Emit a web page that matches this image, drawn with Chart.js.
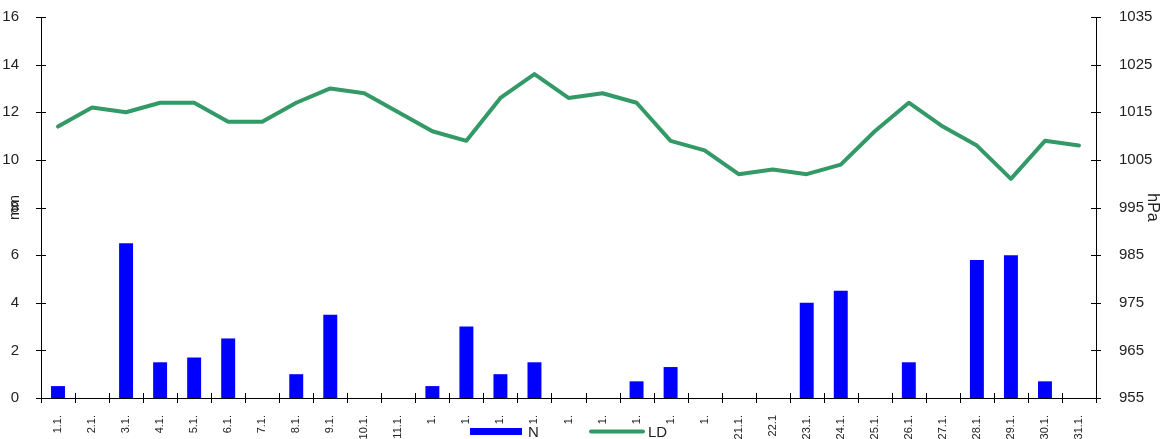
<!DOCTYPE html>
<html>
<head>
<meta charset="utf-8">
<script src="https://cdn.jsdelivr.net/npm/chart.js@4"></script>
<style>
  html, body { margin: 0; padding: 0; background: #fff; }
  #wrap { width: 1168px; height: 439px; position: relative; }
</style>
</head>
<body>
<div id="wrap"><canvas id="c"></canvas></div>
<script>
const categories = ['1.1.','2.1.','3.1.','4.1.','5.1.','6.1.','7.1.','8.1.','9.1.','10.1.','11.1.',
  '1.','1.','1.','1.','1.','1.','1.','1.','1.',
  '21.1.','22.1','23.1.','24.1.','25.1.','26.1.','27.1.','28.1.','29.1.','30.1.','31.1.'];
const precipN = [0.5,0,6.5,1.5,1.7,2.5,0,1.0,3.5,0,0,0.5,3.0,1.0,1.5,0,0,0.7,1.3,0,0,0,4.0,4.5,0,1.5,0,5.8,6.0,0.7,0];
const pressureLD = [1012,1016,1015,1017,1017,1013,1013,1017,1020,1019,1015,1011,1009,1018,1023,1018,1019,1017,1009,1007,1002,1003,1002,1004,1011,1017,1012,1008,1001,1009,1008];
const leftTicks = [0,2,4,6,8,10,12,14,16];
const rightTicks = [955,965,975,985,995,1005,1015,1025,1035];

const FONT = "'Liberation Sans', Arial, sans-serif";
const TXT = '#222';

const crossTicks = {
  id: 'crossTicks',
  afterDraw(chart) {
    const ctx = chart.ctx;
    const ca = chart.chartArea;
    ctx.save();
    ctx.strokeStyle = '#000';
    ctx.lineWidth = 1;
    const yL = chart.scales.y;
    const yR = chart.scales.y2;
    const x = chart.scales.x;
    ctx.beginPath();
    yL.ticks.forEach((t, i) => {
      const py = Math.round(yL.getPixelForTick(i)) + 0.5;
      ctx.moveTo(ca.left - 5, py); ctx.lineTo(ca.left + 5, py);
    });
    yR.ticks.forEach((t, i) => {
      const py = Math.round(yR.getPixelForTick(i)) + 0.5;
      ctx.moveTo(ca.right - 5, py); ctx.lineTo(ca.right + 5, py);
    });
    for (let i = 0; i <= categories.length; i++) {
      const px = Math.round(x.getPixelForValue(i - 0.5)) + 0.5;
      ctx.moveTo(px, ca.bottom - 5); ctx.lineTo(px, ca.bottom + 5);
    }
    ctx.stroke();
    ctx.restore();
  }
};

const customLegend = {
  id: 'customLegend',
  afterDraw(chart) {
    const ctx = chart.ctx;
    const ds = chart.data.datasets;
    ctx.save();
    ctx.font = "15px " + FONT;
    ctx.textBaseline = 'middle';
    const cy = 431.5;
    ctx.fillStyle = ds[0].backgroundColor;
    ctx.fillRect(470, cy - 3.5, 52, 7);
    ctx.fillStyle = TXT;
    ctx.fillText(ds[0].label, 528, cy + 1);
    ctx.strokeStyle = ds[1].borderColor;
    ctx.lineWidth = 4;
    ctx.lineCap = 'round';
    ctx.beginPath();
    ctx.moveTo(591, cy); ctx.lineTo(643, cy);
    ctx.stroke();
    ctx.fillStyle = TXT;
    ctx.fillText(ds[1].label, 648, cy + 1);
    ctx.restore();
  }
};

new Chart(document.getElementById('c'), {
  data: {
    labels: categories,
    datasets: [
      {
        type: 'bar', label: 'N', data: precipN, yAxisID: 'y',
        backgroundColor: '#0000FF', borderWidth: 0,
        barPercentage: 0.82, categoryPercentage: 0.5, order: 2
      },
      {
        type: 'line', label: 'LD', data: pressureLD, yAxisID: 'y2',
        borderColor: '#339966', backgroundColor: '#339966', borderWidth: 4,
        pointRadius: 0, tension: 0, order: 1, borderJoinStyle: 'round', borderCapStyle: 'round'
      }
    ]
  },
  options: {
    responsive: true,
    maintainAspectRatio: false,
    animation: false,
    devicePixelRatio: 1,
    layout: { padding: { top: 17, bottom: 0, left: 0, right: 0 } },
    plugins: { legend: { display: false }, tooltip: { enabled: false } },
    scales: {
      x: {
        type: 'category',
        offset: true,
        grid: { display: false },
        border: { display: true, color: '#000', width: 1 },
        ticks: {
          color: TXT, font: { family: FONT, size: 11 },
          minRotation: 90, maxRotation: 90, autoSkip: false, padding: 9
        },
        afterFit(s) { s.height = 41; s.paddingLeft = 0; s.paddingRight = 0; }
      },
      y: {
        position: 'left', min: 0, max: 16,
        afterBuildTicks(s) { s.ticks = leftTicks.map(v => ({ value: v })); },
        grid: { display: false },
        border: { display: true, color: '#000', width: 1 },
        ticks: { color: TXT, font: { family: FONT, size: 15 }, padding: 14,
                 callback: (v) => String(v) },
        title: { display: true, text: 'mm', color: TXT, font: { family: FONT, size: 15 }, padding: { top: 6, bottom: 0 } },
        afterFit(s) { s.width = 41; s.paddingTop = 0; s.paddingBottom = 0; }
      },
      y2: {
        position: 'right', min: 955, max: 1035,
        afterBuildTicks(s) { s.ticks = rightTicks.map(v => ({ value: v })); },
        grid: { display: false },
        border: { display: true, color: '#000', width: 1 },
        ticks: { color: TXT, font: { family: FONT, size: 15 }, padding: 15,
                 callback: (v) => String(v) },
        title: { display: true, text: 'hPa', color: TXT, font: { family: FONT, size: 16 }, padding: { top: 6, bottom: 0 } },
        afterFit(s) { s.width = 72; s.paddingTop = 0; s.paddingBottom = 0; }
      }
    }
  },
  plugins: [crossTicks, customLegend]
});
</script>
</body>
</html>
